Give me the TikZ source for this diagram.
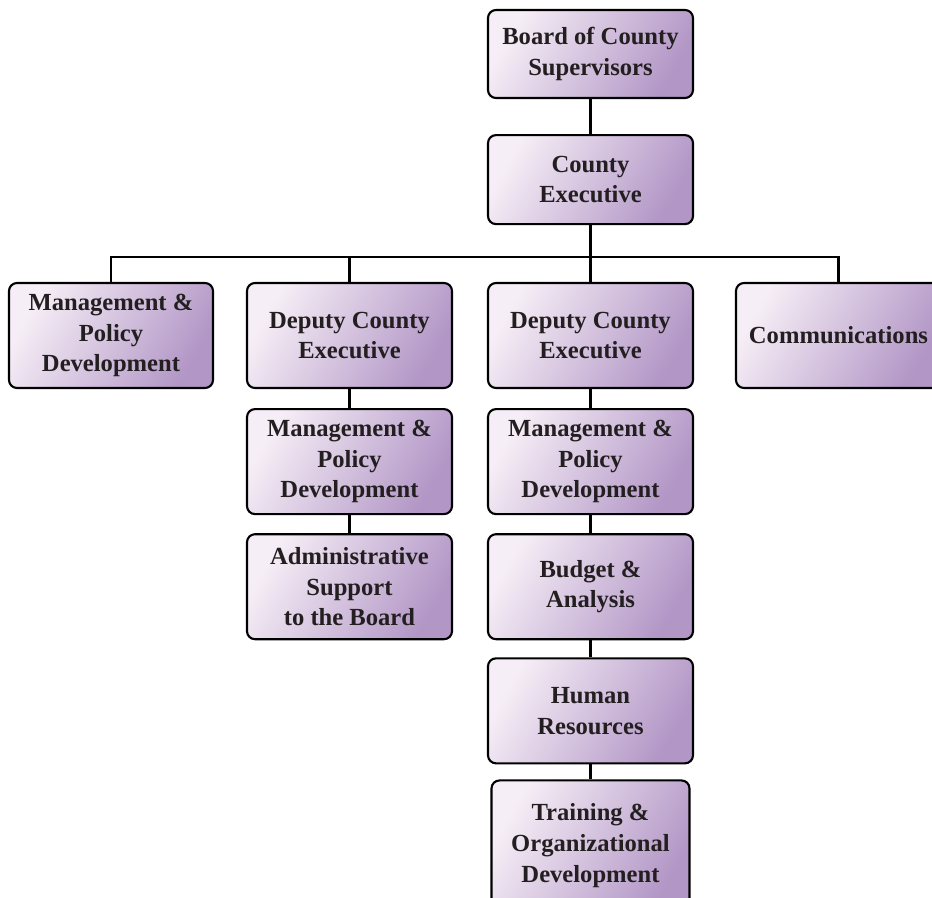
\documentclass[tikz,border=0pt]{standalone}
\usepackage{fontspec}
\setmainfont{Liberation Serif}
\usetikzlibrary{positioning}
\definecolor{boxlite}{HTML}{F6EEF6}
\definecolor{boxdark}{HTML}{B296C6}
\definecolor{inkgray}{HTML}{231F20}
\begin{document}
\begin{tikzpicture}[
                        node distance=0.36cm,
                        box/.style={rectangle, draw=black, line width=1.2pt, rounded corners=0.16cm,
                                    top color=boxlite, bottom color=boxdark, shading angle=60,
                                    minimum width=4.1cm, minimum height=2.1cm, align=center,
                                    text=inkgray, font=\fontsize{14}{17.5}\selectfont\bfseries},
                        link/.style={line width=1.3pt}
                    ]
                    \useasboundingbox (0,0) rectangle (18.64,-17.96);
                    % Blocks
                    \node [box, minimum height=1.76cm] (board) at (11.81,-1.08) {Board of County\\Supervisors};
                    \node [box, minimum height=1.78cm, below=0.7cm of board] (exec) {County\\Executive};
                    \node [box, minimum width=4.08cm] (mpd1) at (2.22,-6.71) {Management \&\\Policy\\Development};
                    \node [box] (dep1) at (6.99,-6.71) {Deputy County\\Executive};
                    \node [box] (dep2) at (11.81,-6.71) {Deputy County\\Executive};
                    \node [box] (comm) at (16.77,-6.71) {Communications};
                    \node [box, below=0.38cm of dep1] (mpd2) {Management \&\\Policy\\Development};
                    \node [box, below=of mpd2] (admin) {Administrative\\Support\\to the Board};
                    \node [box, below=0.38cm of dep2] (mpd3) {Management \&\\Policy\\Development};
                    \node [box, below=of mpd3] (budget) {Budget \&\\Analysis};
                    \node [box, below=0.34cm of budget] (hr) {Human\\Resources};
                    \node [box, minimum width=3.96cm, minimum height=2.6cm, below=0.3cm of hr] (train) {Training \&\\Organizational\\Development};
                    \coordinate (bus) at (0,-5.14);

                    % Connections
                    \draw [link] (board) -- (exec);
                    \draw [link] (exec) -- (exec |- bus);
                    \draw [link] (mpd1.north) |- (comm.north |- bus) -- (comm.north);
                    \draw [link] (dep1.north) -- (dep1 |- bus);
                    \draw [link] (dep2.north) -- (dep2 |- bus);
                    \draw [link] (dep1) -- (mpd2);
                    \draw [link] (mpd2) -- (admin);
                    \draw [link] (dep2) -- (mpd3);
                    \draw [link] (mpd3) -- (budget);
                    \draw [link] (budget) -- (hr);
                    \draw [link] (hr) -- (train);
                \end{tikzpicture}
\end{document}
